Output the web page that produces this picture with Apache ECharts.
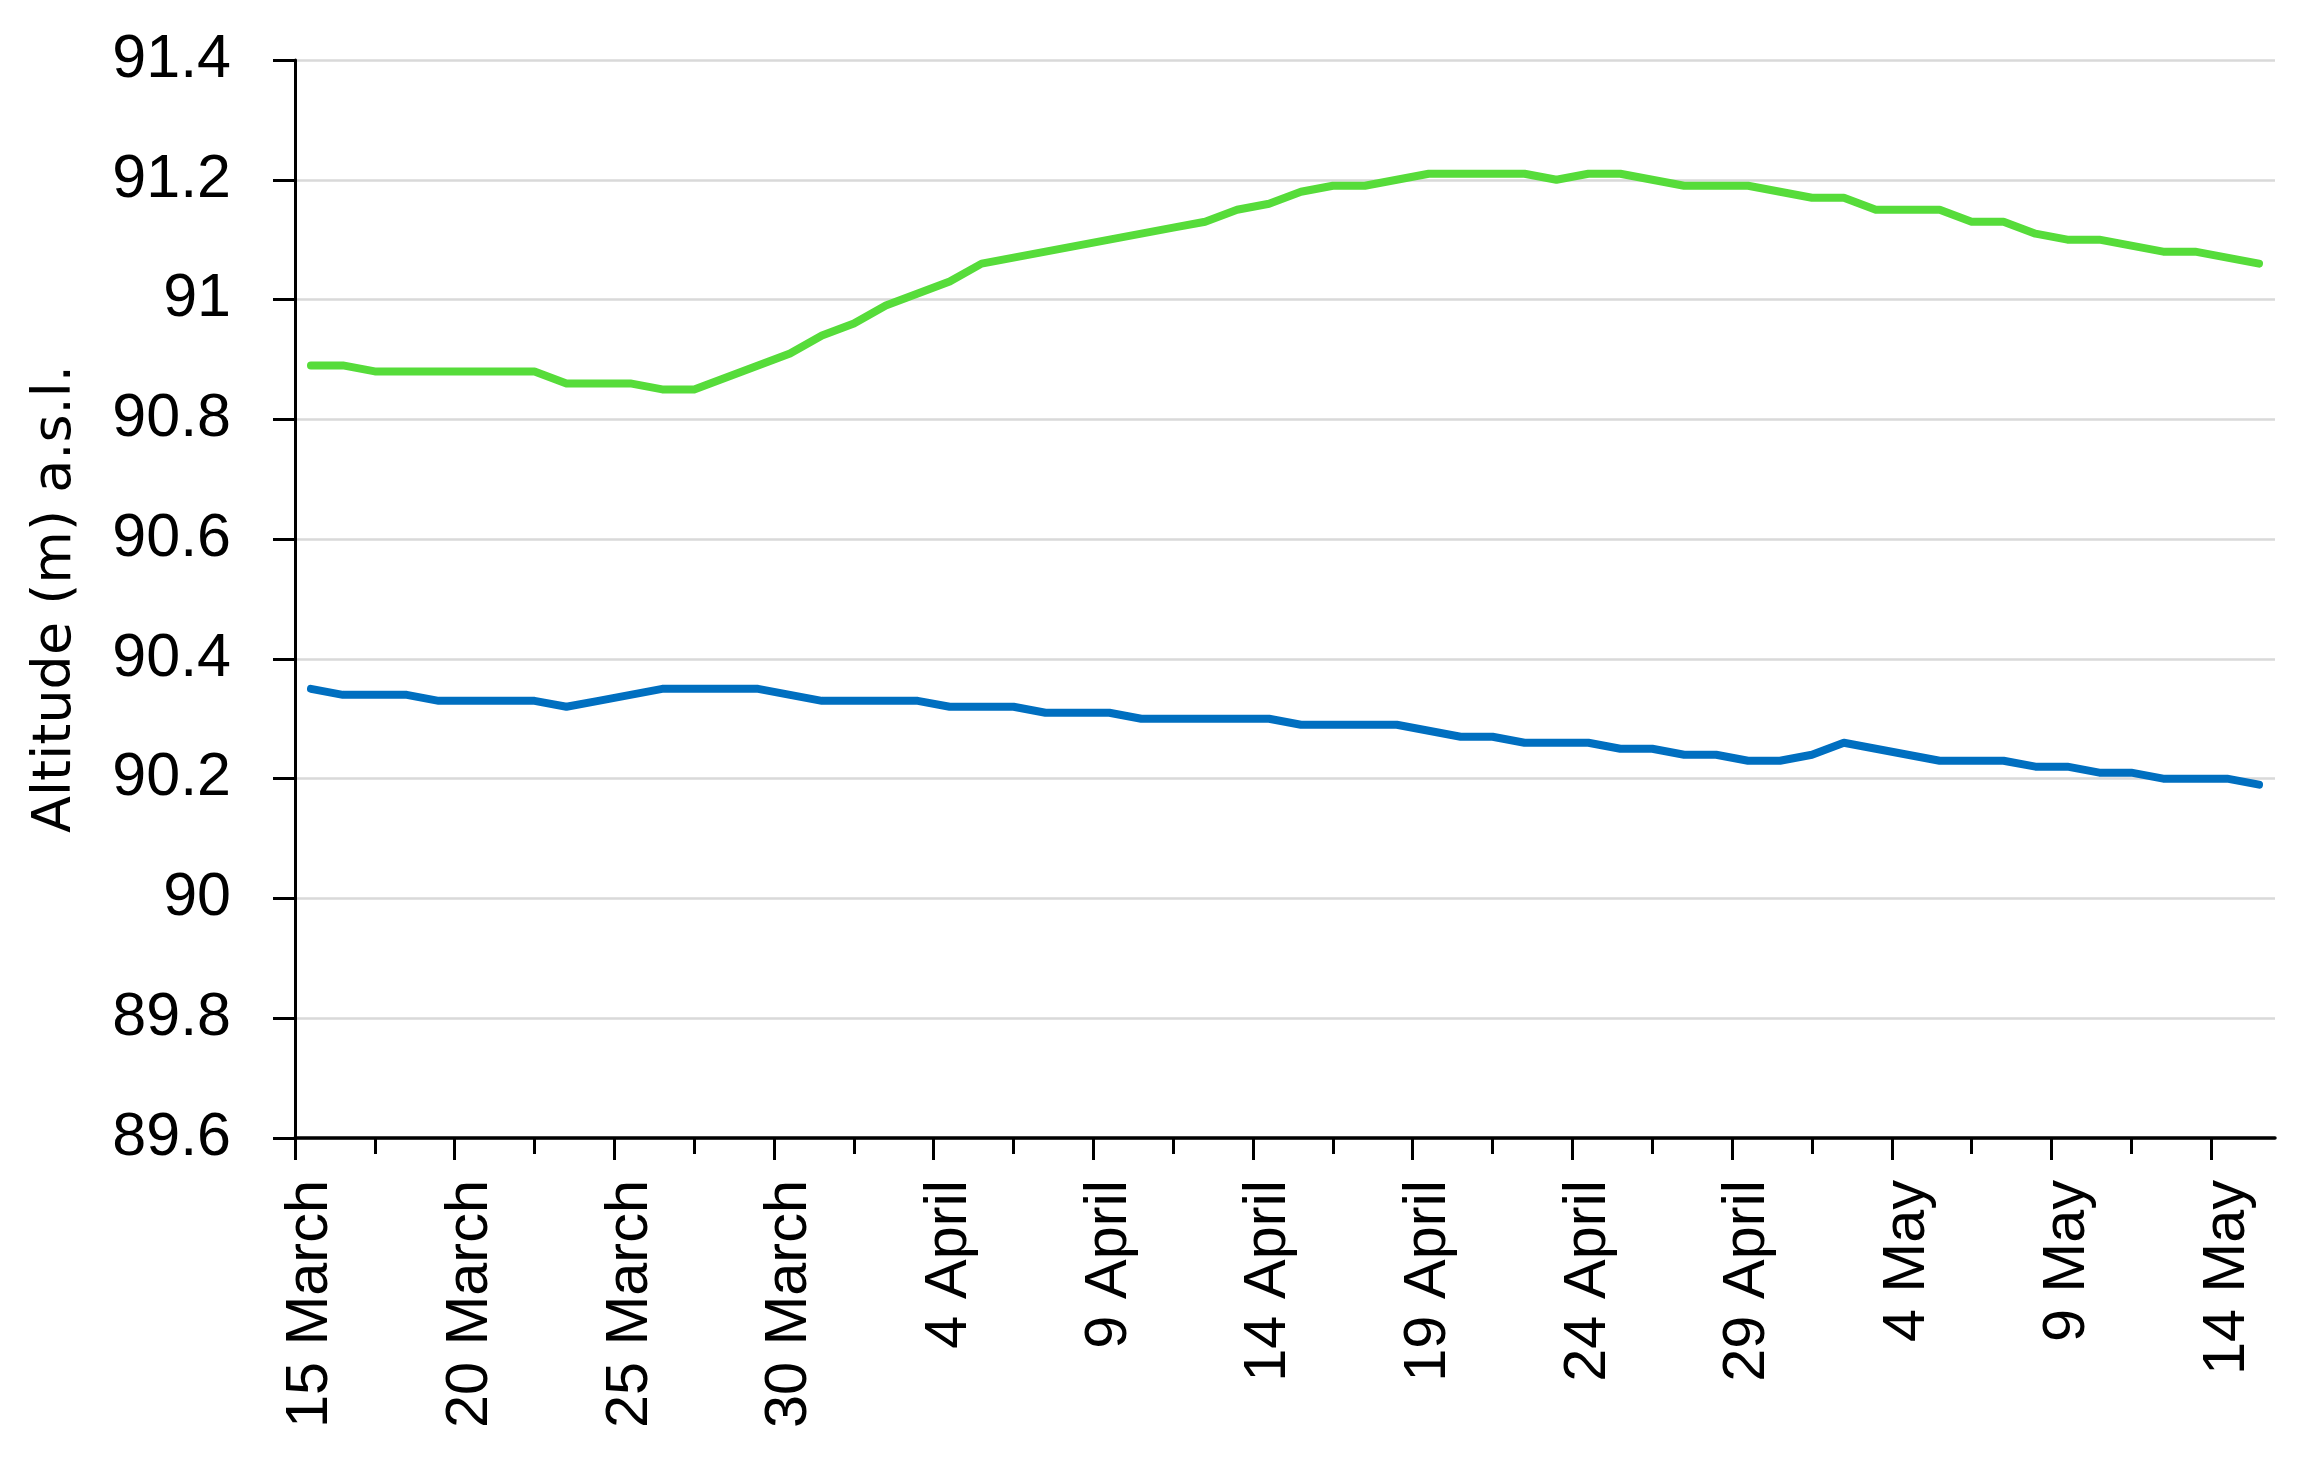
<!DOCTYPE html>
<html>
<head>
<meta charset="utf-8">
<script src="https://cdn.jsdelivr.net/npm/echarts@6/dist/echarts.min.js"></script>
<style>
html,body{margin:0;padding:0;background:#fff;}
#chart{width:2317px;height:1462px;}
</style>
</head>
<body>
<div id="chart"></div>
<script>
const dates = [
  '15 March','16 March','17 March','18 March','19 March','20 March','21 March','22 March','23 March','24 March',
  '25 March','26 March','27 March','28 March','29 March','30 March','31 March',
  '1 April','2 April','3 April','4 April','5 April','6 April','7 April','8 April','9 April','10 April',
  '11 April','12 April','13 April','14 April','15 April','16 April','17 April','18 April','19 April','20 April',
  '21 April','22 April','23 April','24 April','25 April','26 April','27 April','28 April','29 April','30 April',
  '1 May','2 May','3 May','4 May','5 May','6 May','7 May','8 May','9 May','10 May',
  '11 May','12 May','13 May','14 May','15 May'
];

const greenSeries = [
  90.89,90.89,90.88,90.88,90.88,90.88,90.88,90.88,90.86,90.86,
  90.86,90.85,90.85,90.87,90.89,90.91,90.94,90.96,90.99,91.01,
  91.03,91.06,91.07,91.08,91.09,91.10,91.11,91.12,91.13,91.15,
  91.16,91.18,91.19,91.19,91.20,91.21,91.21,91.21,91.21,91.20,
  91.21,91.21,91.20,91.19,91.19,91.19,91.18,91.17,91.17,91.15,
  91.15,91.15,91.13,91.13,91.11,91.10,91.10,91.09,91.08,91.08,
  91.07,91.06
];

const blueSeries = [
  90.35,90.34,90.34,90.34,90.33,90.33,90.33,90.33,90.32,90.33,
  90.34,90.35,90.35,90.35,90.35,90.34,90.33,90.33,90.33,90.33,
  90.32,90.32,90.32,90.31,90.31,90.31,90.30,90.30,90.30,90.30,
  90.30,90.29,90.29,90.29,90.29,90.28,90.27,90.27,90.26,90.26,
  90.26,90.25,90.25,90.24,90.24,90.23,90.23,90.24,90.26,90.25,
  90.24,90.23,90.23,90.23,90.22,90.22,90.21,90.21,90.20,90.20,
  90.20,90.19
];

// tick positions along the day axis (in category-width units from the axis start)
const majorTickDays = [0,5,10,15,20,25,30,35,40,45,50,55,60];
const minorTickDays = [2.5,7.5,12.5,17.5,22.5,27.5,32.5,37.5,42.5,47.5,52.5,57.5];

const chart = echarts.init(document.getElementById('chart'), null, {renderer:'canvas'});
const labelFont = 'Liberation Sans, Arial, sans-serif';

chart.setOption({
  animation: false,
  backgroundColor: '#ffffff',
  grid: {left: 295, right: 42, top: 60, bottom: 324, containLabel: false},
  xAxis: [
    {
      type: 'category',
      data: dates,
      boundaryGap: true,
      position: 'bottom',
      axisLine: {show: true, lineStyle: {color: '#000', width: 3.5}},
      axisTick: {show: false},
      splitLine: {show: false},
      axisLabel: {
        interval: 4, rotate: 90, margin: 42,
        fontSize: 59.5, fontFamily: labelFont, color: '#000'
      }
    },
    {
      type: 'value', min: 0, max: 62, position: 'bottom',
      axisLine: {show: false}, axisLabel: {show: false}, splitLine: {show: false},
      axisTick: {show: true, customValues: majorTickDays, length: 22, lineStyle: {color: '#000', width: 3}}
    },
    {
      type: 'value', min: 0, max: 62, position: 'bottom',
      axisLine: {show: false}, axisLabel: {show: false}, splitLine: {show: false},
      axisTick: {show: true, customValues: minorTickDays, length: 16, lineStyle: {color: '#000', width: 3}}
    }
  ],
  yAxis: {
    type: 'value',
    min: 89.6, max: 91.4, interval: 0.2,
    name: 'Altitude (m) a.s.l.',
    nameLocation: 'middle',
    nameGap: 212,
    nameTextStyle: {fontSize: 54, fontFamily: 'DejaVu Sans, sans-serif', color: '#000'},
    axisLine: {show: true, lineStyle: {color: '#000', width: 3}},
    axisTick: {show: true, length: 22, lineStyle: {color: '#000', width: 3}},
    axisLabel: {fontSize: 61, fontFamily: labelFont, color: '#000', margin: 64},
    splitLine: {show: true, lineStyle: {color: '#d9d9d9', width: 2.5}}
  },
  series: [
    {
      type: 'line', data: greenSeries, xAxisIndex: 0, yAxisIndex: 0,
      showSymbol: false, symbol: 'none', smooth: false,
      lineStyle: {color: '#56DC3A', width: 8, cap: 'round', join: 'round'}
    },
    {
      type: 'line', data: blueSeries, xAxisIndex: 0, yAxisIndex: 0,
      showSymbol: false, symbol: 'none', smooth: false,
      lineStyle: {color: '#006FC0', width: 8, cap: 'round', join: 'round'}
    }
  ]
});
</script>
</body>
</html>
